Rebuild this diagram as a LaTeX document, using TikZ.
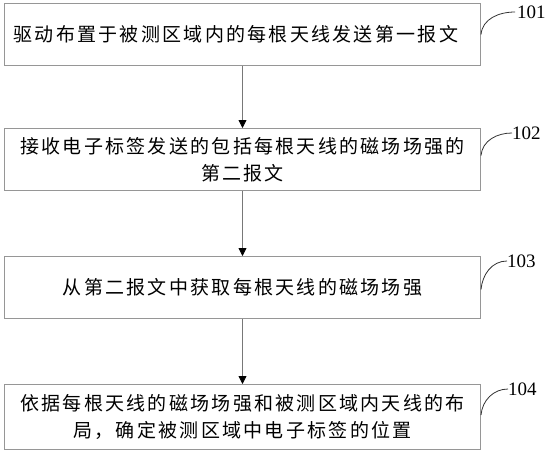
\documentclass[tikz,border=0pt]{standalone}
\usepackage{fontspec}
\usepackage{xcolor}
\usepackage{tikz}
\usetikzlibrary{positioning, arrows.meta}
\newfontfamily\cjkfont[LetterSpace=12]{Noto Sans CJK SC}
\setmainfont{Liberation Serif}
\definecolor{boxborder}{RGB}{150,150,150}
\definecolor{flowline}{RGB}{120,120,120}

\begin{document}
\begin{tikzpicture}[
    x=1pt, y=1pt,
    node distance=62pt,
    arrow/.style={-{Triangle[length=8pt, width=8pt, color=black]}, line width=0.8pt, color=flowline},
    stepbox/.style={
        rectangle,
        minimum width=476pt,
        minimum height=62pt,
        align=center,
        draw=boxborder,
        line width=1pt,
        inner sep=0pt,
        font=\cjkfont\fontsize{19}{27.5}\selectfont
    },
    leader/.style={line width=0.8pt, color=black!80},
    steplabel/.style={anchor=west, inner sep=0pt, font=\fontsize{19}{22}\selectfont}
]
\useasboundingbox (0,0) rectangle (548,-450);

% Steps
\node (send) [stepbox, anchor=north west, text width=458pt, align=left] at (4,-3) {驱动布置于被测区域内的每根天线发送第一报文};
\node (receive) [stepbox, below=62pt of send] {接收电子标签发送的包括每根天线的磁场场强的\\第二报文};
\node (extract) [stepbox, below=65pt of receive] {从第二报文中获取每根天线的磁场场强};
\node (locate) [stepbox, below=65pt of extract, minimum height=65pt] {依据每根天线的磁场场强和被测区域内天线的布\\局，确定被测区域中电子标签的位置};

% Step numbers
\node (n101) [steplabel] at (517,-12) {101};
\node (n102) [steplabel] at (512,-133) {102};
\node (n103) [steplabel] at (507,-261) {103};
\node (n104) [steplabel] at (508,-389) {104};

% Arrows
\draw [arrow] (send) -- (receive);
\draw [arrow] (receive) -- (extract);
\draw [arrow] (extract) -- (locate);

% Leaders
\draw [leader] (send.east) to[out=85, in=180] ([xshift=-2pt]n101.west);
\draw [leader] ([yshift=4pt]receive.east) to[out=85, in=180] (n102.west);
\draw [leader] ([yshift=-2pt]extract.east) to[out=85, in=180] (n103.west);
\draw [leader] ([yshift=2pt]locate.east) to[out=85, in=180] (n104.west);

\end{tikzpicture}
\end{document}
